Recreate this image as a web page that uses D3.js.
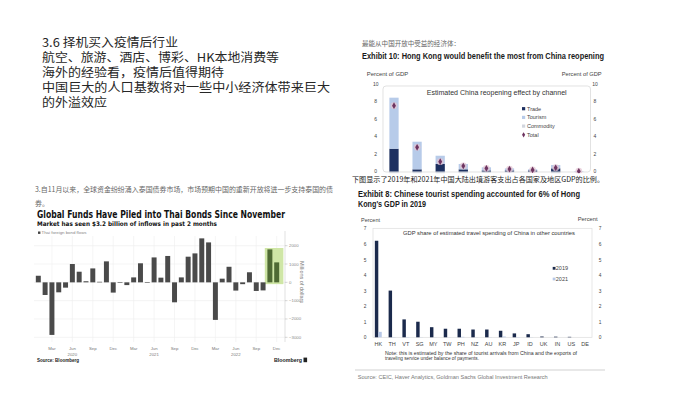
<!DOCTYPE html>
<html>
<head>
<meta charset="utf-8">
<script src="https://cdn.jsdelivr.net/npm/d3@7"></script>
<style>
body { margin: 0; background: #fff; }
svg { display: block; font-family: "Noto Sans CJK SC", "Liberation Sans", sans-serif; }
</style>
</head>
<body>
<svg id="chart" width="700" height="394"></svg>
<script>
// slide heading
const headLines = [
  "3.6 择机买入疫情后行业",
  "航空、旅游、酒店、博彩、HK本地消费等",
  "海外的经验看，疫情后值得期待",
  "中国巨大的人口基数将对一些中小经济体带来巨大",
  "的外溢效应"
]

// Bloomberg: Thai foreign bond flows, millions of dollars
const thaiMonths = [
  "2020-01","2020-02","2020-03","2020-04","2020-05","2020-06","2020-07","2020-08","2020-09","2020-10","2020-11","2020-12",
  "2021-01","2021-02","2021-03","2021-04","2021-05","2021-06","2021-07","2021-08","2021-09","2021-10","2021-11","2021-12",
  "2022-01","2022-02","2022-03","2022-04","2022-05","2022-06","2022-07","2022-08","2022-09","2022-10","2022-11","2022-12"
]
const thaiFlows = [
  360, -690, -2870, -545, -290, 1000, 580, 60, 760, 30, 1145, -560,
  10, -150, 270, 1040, 10, 1360, 255, 1440, -1090, 270, 1400, 1580,
  2400, 2180, -2050, 200, 850, -450, -100, 550, -470, -440, 1800, 1090
]
const thaiTickMonths = ["2020-03","2020-06","2020-09","2020-12","2021-03","2021-06","2021-09","2021-12","2022-03","2022-06","2022-09","2022-12"]
const thaiTickLabels = ["Mar","Jun","Sep","Dec","Mar","Jun","Sep","Dec","Mar","Jun","Sep","Dec"]
const thaiYearMonths = ["2020-06","2021-06","2022-06"]
const thaiYearLabels = ["2020","2021","2022"]
const thaiYTicks = [2000, 1000, 0, -1000, -2000, -3000]
const thaiHighlight = ["2022-11","2022-12"]

// GS exhibit 10: China reopening effect by channel, % of GDP
const reopenCats = ["HK","TH","VN","SG","MY","TW","PH","KR","US"]
const reopenTrade = [2.62, 0.27, 0.88, 0.27, 0.15, 0.15, 0.15, 0.38, 0]
const reopenTourism = [5.82, 3.15, 0.94, 0.61, 0.35, 0.23, 0.12, 0.38, 0.05]
const reopenCommodity = [-0.91, -0.64, -0.68, -0.23, -0.12, -0.08, -0.07, -0.31, 0.02]
const reopenTotal = [7.53, 2.78, 1.14, 0.65, 0.38, 0.30, 0.20, 0.45, 0.05]
const reopenTicks = [0, 2, 4, 6, 8, 10]
const reopenLegend = ["Trade","Tourism","Commodity","Total"]

// GS exhibit 8: travel spending of China as % of GDP
const travelCats = ["HK","TH","VT","SG","MY","TW","PH","NZ","AU","KR","JP","ID","UK","IN","US","DE"]
const travel2019 = [6.2, 3.0, 1.15, 1.0, 0.65, 0.55, 0.55, 0.5, 0.5, 0.42, 0.25, 0.2, 0.05, 0.04, 0.03, 0]
const travel2021 = [0.35, 0.02, 0.02, 0.01, 0.01, 0.01, 0.03, 0.01, 0.01, 0.05, 0.02, 0.01, 0, 0, 0, 0]
const travelTicks = [0, 1, 2, 3, 4, 5, 6, 7]
const travelYears = ["2019","2021"]

const svg = d3.select("#chart")
const narrow = '"Liberation Sans Narrow","Arial Narrow","Liberation Sans",sans-serif'
const latin = '"Liberation Sans","DejaVu Sans",sans-serif'

function label(g, x, y, s, o) {
  o = o || {}
  let t = g.append("text").attr("x", x).attr("y", y).attr("dy", "0.35em").text(s)
    .attr("font-size", o.size || 6).attr("fill", o.fill || "#333")
  if (o.bold) t.attr("font-weight", "bold")
  if (o.anchor) t.attr("text-anchor", o.anchor)
  if (o.len) t.attr("textLength", o.len).attr("lengthAdjust", "spacingAndGlyphs")
  if (o.family) t.style("font-family", o.family)
  return t
}

// ---------- heading ----------
let headLens = [136, 237, 182, 288, 65]
headLines.forEach(function(s, i) {
  label(svg, 42, 43 + i * 15, s, {size: 12, fill: "#262626", len: headLens[i]})
})

// ---------- Bloomberg chart ----------
let bl = svg.append("g")
label(bl, 35, 190, "3.自11月以来，全球资金纷纷涌入泰国债券市场，市场预期中国的重新开放将进一步支持泰国的债", {size: 7, fill: "#666", len: 298})
label(bl, 35, 204, "券。", {size: 7, fill: "#666"})
label(bl, 37, 214, "Global Funds Have Piled into Thai Bonds Since November", {size: 11, bold: true, fill: "#111", len: 248, family: '"DejaVu Sans",sans-serif'})
label(bl, 37, 223.5, "Market has seen $3.2 billion of inflows in past 2 months", {size: 6.3, bold: true, fill: "#111", len: 180, family: '"DejaVu Sans",sans-serif'})
bl.append("rect").attr("x", 38).attr("y", 231.5).attr("width", 2.4).attr("height", 2.4).attr("fill", "#444")
label(bl, 41.5, 232.7, "Thai foreign bond flows", {size: 4, fill: "#888", len: 45, family: latin})

let bx = d3.scaleBand().domain(thaiMonths).range([34.9, 280.1]).paddingInner(0.27).paddingOuter(0.135)
let by = d3.scaleLinear().domain([-3000, 2000]).range([337.3, 245.7])
let bmid = function(m) { return bx(m) + bx.bandwidth() / 2 }

bl.selectAll(".hgrid").data(thaiYTicks).enter().append("line")
  .attr("x1", 34).attr("x2", 285).attr("y1", by).attr("y2", by)
  .attr("stroke", "#ececec").attr("stroke-width", 0.6)
bl.selectAll(".vgrid").data(thaiTickMonths).enter().append("line")
  .attr("x1", bmid).attr("x2", bmid).attr("y1", 236).attr("y2", 342)
  .attr("stroke", "#efefef").attr("stroke-width", 0.6)

// highlight of the last two months
let hx0 = bx(thaiHighlight[0]) - 2.6
let hx1 = bx(thaiHighlight[1]) + bx.bandwidth() + 4.2
bl.append("rect").attr("x", hx0).attr("y", 248).attr("width", hx1 - hx0).attr("height", by(0) - 248 + 1.8)
  .attr("fill", "#cfe6a6")

bl.selectAll(".bar").data(thaiFlows).enter().append("rect")
  .attr("x", function(d, i) { return bx(thaiMonths[i]) })
  .attr("width", bx.bandwidth())
  .attr("y", function(d) { return by(Math.max(0, d)) })
  .attr("height", function(d) { return Math.max(0.6, Math.abs(by(d) - by(0))) })
  .attr("fill", function(d, i) { return thaiHighlight.indexOf(thaiMonths[i]) >= 0 ? "#4f6a34" : "#4a4a4a" })

// right axis
bl.append("line").attr("x1", 285).attr("x2", 285).attr("y1", 231).attr("y2", 342).attr("stroke", "#cfcfcf").attr("stroke-width", 0.6)
bl.selectAll(".ytick").data(thaiYTicks).enter().append("line")
  .attr("x1", 285).attr("x2", 287.5).attr("y1", by).attr("y2", by).attr("stroke", "#bbb").attr("stroke-width", 0.6)
thaiYTicks.forEach(function(v) {
  label(bl, 289, by(v), d3.format("d")(v).replace("-", "- "), {size: 4.3, fill: "#888", family: latin})
})
bl.append("text").attr("transform", "translate(302,282) rotate(90)").attr("text-anchor", "middle")
  .attr("dy", "0.35em").attr("font-size", 5.5).attr("fill", "#777").style("font-family", latin)
  .text("Millions of dollars")

thaiTickMonths.forEach(function(m, i) {
  label(bl, bmid(m), 348, thaiTickLabels[i], {size: 4.3, fill: "#777", anchor: "middle", family: latin})
})
thaiYearMonths.forEach(function(m, i) {
  label(bl, bmid(m), 354, thaiYearLabels[i], {size: 4.3, fill: "#777", anchor: "middle", family: latin})
})
label(bl, 37, 360, "Source: Bloomberg", {size: 4.5, bold: true, fill: "#222", len: 42, family: latin})
label(bl, 274, 360, "Bloomberg", {size: 6, bold: true, fill: "#222", len: 28, family: latin})
bl.append("rect").attr("x", 303.5).attr("y", 357.6).attr("width", 3.6).attr("height", 4.6).attr("fill", "#222")

// ---------- GS exhibit 10 ----------
let e10 = svg.append("g")
label(e10, 362, 44, "最能从中国开放中受益的经济体：", {size: 6.5, fill: "#666", len: 98})
label(e10, 362, 55.5, "Exhibit 10: Hong Kong would benefit the most from China reopening", {size: 9.5, bold: true, fill: "#1a1a1a", len: 242, family: narrow})
label(e10, 366.7, 74, "Percent of GDP", {size: 5, fill: "#444", len: 41.6, family: latin})
label(e10, 561.7, 74, "Percent of GDP", {size: 5, fill: "#444", len: 40, family: latin})

let ex = d3.scaleBand().domain(reopenCats).range([382.45, 590.35]).paddingInner(0.6).paddingOuter(0.3)
let ey = d3.scaleLinear().domain([0, 10]).range([171.7, 84])

e10.append("rect").attr("x", 383).attr("y", 86).attr("width", 207.5).attr("height", 86)
  .attr("fill", "none").attr("stroke", "#d6d6d6").attr("stroke-width", 0.7).attr("rx", 3)
reopenTicks.forEach(function(v) {
  label(e10, 375.7, ey(v), v, {size: 5, fill: "#444", anchor: "middle", family: latin})
  label(e10, 595, ey(v), v, {size: 5, fill: "#444", anchor: "middle", family: latin})
})
label(e10, 496.7, 93, "Estimated China reopening effect by channel", {size: 6.8, fill: "#333", anchor: "middle", len: 140, family: latin})

let reopenRows = reopenCats.map(function(c, i) {
  return {cat: c, trade: reopenTrade[i], tourism: reopenTourism[i], commodity: reopenCommodity[i]}
})
let reopenColors = {trade: "#1d3060", tourism: "#b7cbe9", commodity: "#d2d6de"}
let stacked = d3.stack().keys(["trade", "tourism", "commodity"]).offset(d3.stackOffsetDiverging)(reopenRows)
e10.selectAll(".layer").data(stacked).enter().append("g")
  .attr("fill", function(s) { return reopenColors[s.key] })
  .selectAll("rect").data(function(s) { return s }).enter().append("rect")
    .attr("x", function(d) { return ex(d.data.cat) })
    .attr("width", ex.bandwidth())
    .attr("y", function(d) { return ey(Math.max(d[0], d[1])) })
    .attr("height", function(d) { return Math.abs(ey(d[0]) - ey(d[1])) })

let diamond = d3.symbol().type(d3.symbolDiamond).size(13)
e10.selectAll(".tot").data(reopenTotal).enter().append("g")
  .attr("transform", function(d, i) { return "translate(" + (ex(reopenCats[i]) + ex.bandwidth() / 2) + "," + ey(d) + ")" })
  .each(function() {
    d3.select(this).append("circle").attr("r", 3.4).attr("fill", "#e3c6d3").attr("opacity", 0.75)
    d3.select(this).append("path").attr("d", diamond).attr("fill", "#6e3460")
  })

// legend
let legColors = ["#1d3060", "#b7cbe9", "#d2d6de"]
reopenLegend.forEach(function(s, i) {
  let y = 108.7 + i * 8.7
  if (i < 3) {
    e10.append("rect").attr("x", 522).attr("y", y - 1.6).attr("width", 3.2).attr("height", 3.2).attr("fill", legColors[i])
  } else {
    e10.append("path").attr("transform", "translate(523.6," + y + ")").attr("d", d3.symbol().type(d3.symbolDiamond).size(8)).attr("fill", "#6e3460")
  }
  label(e10, 527, y, s, {size: 5.5, fill: "#444", family: latin})
})

// caption over the axis
e10.append("rect").attr("x", 348).attr("y", 173.2).attr("width", 262).attr("height", 14).attr("fill", "#fff")
label(e10, 352, 179.5, "下图显示了2019年和2021年中国大陆出境游客支出占各国家及地区GDP的比例。", {size: 7.3, fill: "#222", len: 252})

// ---------- GS exhibit 8 ----------
let e8 = svg.append("g")
label(e8, 358, 194, "Exhibit 8: Chinese tourist spending accounted for 6% of Hong", {size: 9.5, bold: true, fill: "#1a1a1a", len: 222, family: narrow})
label(e8, 358, 203.5, "Kong's GDP in 2019", {size: 9.5, bold: true, fill: "#1a1a1a", len: 68, family: narrow})
label(e8, 361, 220.3, "Percent", {size: 4.5, fill: "#444", len: 19, family: latin})
label(e8, 577.7, 219.3, "Percent", {size: 4.5, fill: "#444", len: 20, family: latin})

let tx = d3.scaleBand().domain(travelCats).range([371.4, 591.9]).paddingInner(0.5).paddingOuter(0.25)
let tsub = d3.scaleBand().domain(travelYears).range([0, tx.bandwidth()])
let ty = d3.scaleLinear().domain([0, 7]).range([337.3, 228.3])

e8.append("rect").attr("x", 373).attr("y", 228.3).attr("width", 219).attr("height", 109)
  .attr("fill", "none").attr("stroke", "#dcdcdc").attr("stroke-width", 0.7)
travelTicks.forEach(function(v) {
  label(e8, 365, ty(v) + 0.5, v, {size: 4.8, fill: "#444", anchor: "middle", family: latin})
  label(e8, 600, ty(v) + 0.5, v, {size: 4.8, fill: "#444", anchor: "middle", family: latin})
})
label(e8, 489, 233, "GDP share of estimated travel spending of China in other countries", {size: 6, fill: "#333", anchor: "middle", len: 172, family: latin})

let travelColors = {"2019": "#1b2a4c", "2021": "#b6c7e6"}
let travelSeries = {"2019": travel2019, "2021": travel2021}
travelYears.forEach(function(yr) {
  e8.selectAll(".b" + yr).data(travelSeries[yr]).enter().append("rect")
    .attr("x", function(d, i) { return tx(travelCats[i]) + tsub(yr) })
    .attr("width", tsub.bandwidth())
    .attr("y", function(d) { return ty(d) })
    .attr("height", function(d) { return ty(0) - ty(d) })
    .attr("fill", travelColors[yr])
})
travelCats.forEach(function(c) {
  label(e8, tx(c) + tx.bandwidth() / 2, 344.3, c, {size: 5.5, fill: "#444", anchor: "middle", family: latin})
})
travelYears.forEach(function(yr, i) {
  let y = 268.3 + i * 10.7
  e8.append("rect").attr("x", 552.7).attr("y", y - 1.4).attr("width", 2.8).attr("height", 2.8).attr("fill", travelColors[yr])
  label(e8, 555.8, y, yr, {size: 5.5, fill: "#444", family: latin})
})
label(e8, 385, 352.7, "Note: this is estimated by the share of tourist arrivals from China and the exports of", {size: 5.3, fill: "#333", len: 192, family: latin})
label(e8, 385, 358.6, "traveling service under balance of payments.", {size: 5.3, fill: "#333", len: 94, family: latin})
e8.append("line").attr("x1", 355).attr("x2", 605).attr("y1", 370).attr("y2", 370).attr("stroke", "#bdbdbd").attr("stroke-width", 0.7)
label(e8, 357.7, 377.3, "Source: CEIC, Haver Analytics, Goldman Sachs Global Investment Research", {size: 6, fill: "#777", len: 190, family: latin})
</script>
</body>
</html>
